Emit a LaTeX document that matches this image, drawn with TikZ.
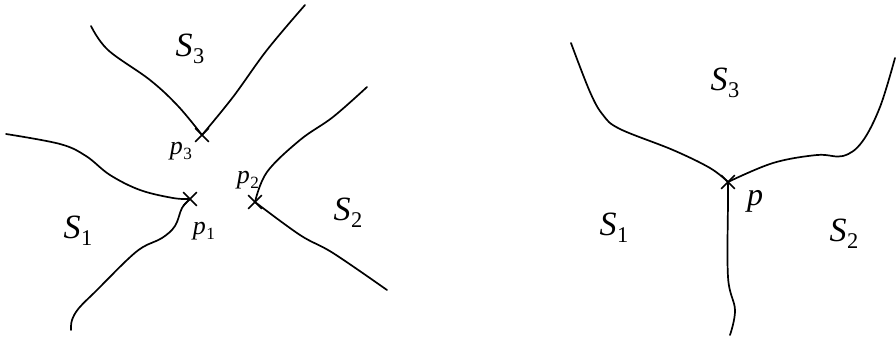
\documentclass[tikz,border=0pt]{standalone}
\usepackage{fontspec}
\setmainfont{Liberation Serif}
\usetikzlibrary{shapes.misc}
\newcommand{\lbl}[2]{\textit{#1}\kern0.02em\raisebox{-0.45ex}{\scalebox{0.66}{#2}}}
\begin{document}
\begin{tikzpicture}[x=0.5pt,y=-0.5pt,
    curve/.style={line width=0.85pt, line cap=round},
    crossmark/.style={cross out, draw, line width=0.85pt, minimum size=6pt, inner sep=0pt},
    region/.style={font=\fontsize{17}{20}\selectfont},
    pt/.style={font=\fontsize{13}{15}\selectfont}]
    \useasboundingbox (0,0) rectangle (896,338);

    % Left picture: three separate points
    \node[crossmark] (p3) at (202,135) {};
    \node[crossmark] (p1) at (190,199) {};
    \node[crossmark] (p2) at (255,202) {};
    \node[pt] (lp3) at (181,151) {\lbl{p}{3}};
    \node[pt] (lp1) at (204,231) {\lbl{p}{1}};
    \node[pt] (lp2) at (248,180) {\lbl{p}{2}};
    \node[region] (s3) at (190,49) {\lbl{S}{3}};
    \node[region] (s1) at (78,231) {\lbl{S}{1}};
    \node[region] (s2) at (348,213) {\lbl{S}{2}};

    \coordinate (a3) at (91,26);
    \coordinate (b3) at (305,5);
    \coordinate (a1) at (6,134);
    \coordinate (b1) at (71,330);
    \coordinate (a2) at (367,87);
    \coordinate (b2) at (387,290);

    \draw[curve] plot[smooth, tension=0.6] coordinates {(a3) (108,50) (150,80) (178,106) (p3.center)};
    \draw[curve] plot[smooth, tension=0.6] coordinates {(p3.center) (233,97) (267,50) (b3)};
    \draw[curve] plot[smooth, tension=0.6] coordinates {(a1) (60,144) (86,156) (110,175) (140,190) (173,198) (p1.center)};
    \draw[curve] plot[smooth, tension=0.6] coordinates {(p1.center) (182,208) (175,226) (162,238) (143,247) (127,260) (97,290) (79,308) (72,320) (b1)};
    \draw[curve] plot[smooth, tension=0.6] coordinates {(p2.center) (267,172) (300,140) (333,117) (a2)};
    \draw[curve] plot[smooth, tension=0.6] coordinates {(p2.center) (300,235) (333,253) (b2)};

    % Right picture: the points merged into one
    \node[crossmark] (p) at (728,182) {};
    \node[font=\fontsize{16}{18}\selectfont] (lp) at (755,201) {\textit{p}};
    \node[region] (t3) at (725,83) {\lbl{S}{3}};
    \node[region] (t1) at (614,228) {\lbl{S}{1}};
    \node[region] (t2) at (844,234) {\lbl{S}{2}};

    \coordinate (c1) at (571,43);
    \coordinate (c2) at (895,58);
    \coordinate (c3) at (730,335);

    \draw[curve] plot[smooth, tension=0.6] coordinates {(c1) (590,92) (603,115) (620,129) (673,150) (710,168) (p.center)};
    \draw[curve] plot[smooth, tension=0.6] coordinates {(p.center) (773,163) (817,155) (843,156) (862,142) (880,107) (c2)};
    \draw[curve] plot[smooth, tension=0.6] coordinates {(p.center) (728,200) (728,277) (735,310) (c3)};
\end{tikzpicture}
\end{document}
